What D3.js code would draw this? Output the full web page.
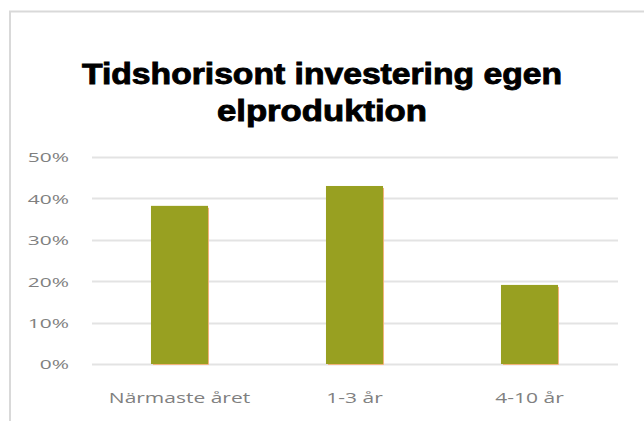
<!DOCTYPE html>
<html><head><meta charset="utf-8">
<script src="https://cdn.jsdelivr.net/npm/d3@7"></script>
<style>body{margin:0;background:#fff}svg{display:block}</style>
</head><body>
<script>
const categories = ["Närmaste året", "1-3 år", "4-10 år"];
const values = [0.382, 0.430, 0.191];
const yTicks = [0, 0.1, 0.2, 0.3, 0.4, 0.5];
const titleLines = ["Tidshorisont investering egen", "elproduktion"];

const W = 644, H = 421;
const svg = d3.select("body").append("svg").attr("width", W).attr("height", H);

// frame
svg.append("line").attr("x1", 9).attr("x2", W).attr("y1", 11.5).attr("y2", 11.5).attr("stroke", "#d9d9d9").attr("stroke-width", 2);
svg.append("line").attr("x1", 10).attr("x2", 10).attr("y1", 11).attr("y2", H).attr("stroke", "#d9d9d9").attr("stroke-width", 2);

const x = d3.scaleBand().domain(categories).range([92, 617]).paddingInner(0.674).paddingOuter(0.337);
const y = d3.scaleLinear().domain([0, 0.5]).range([364, 157]);

const grid = svg.append("g");
grid.selectAll("line").data(yTicks).join("line")
  .attr("x1", 92).attr("x2", 618)
  .attr("y1", d => Math.round(y(d)) + 0.5).attr("y2", d => Math.round(y(d)) + 0.5)
  .attr("stroke", "#e3e3e3").attr("stroke-width", 2);

const yAxis = svg.append("g").attr("transform", "translate(69,0)")
  .call(d3.axisLeft(y).tickValues(yTicks).tickFormat(d3.format(".0%")).tickSize(0).tickPadding(0));
yAxis.select(".domain").remove();
yAxis.selectAll("text").attr("fill", "#808080").attr("dy", "0.36em")
  .attr("transform", "scale(1.55,1)")
  .style("font-family", "'Open Sans', sans-serif").style("font-size", "13.5px");

svg.append("g").selectAll("rect").data(values).join("rect")
  .attr("x", (d, i) => x(categories[i]))
  .attr("width", x.bandwidth())
  .attr("y", d => y(d))
  .attr("height", d => y(0) - y(d))
  .attr("fill", "#98a021");
svg.append("g").selectAll("path").data(values).join("path")
  .attr("d", (d, i) => { const x0 = x(categories[i]), x1 = x0 + x.bandwidth(); return `M${x1 + 0.5},${y(d) + 2}V${y(0) + 0.5}H${x0 + 2}`; })
  .attr("fill", "none").attr("stroke", "#f2b27a").attr("stroke-width", 1);

const xAxis = svg.append("g").attr("transform", "translate(0,364)")
  .call(d3.axisBottom(x).tickSize(0).tickPadding(0));
xAxis.select(".domain").remove();
xAxis.selectAll("text").attr("fill", "#808080").attr("y", 39).attr("dy", null)
  .attr("transform", "scale(1.4,1)")
  .style("font-family", "'Open Sans', sans-serif").style("font-size", "15px");

const tl = [480, 210];
svg.append("g").selectAll("text").data(titleLines).join("text")
  .attr("x", 322).attr("y", (d, i) => 84 + i * 37)
  .attr("text-anchor", "middle")
  .attr("textLength", (d, i) => tl[i]).attr("lengthAdjust", "spacingAndGlyphs")
  .style("font-family", "'Liberation Sans', Arial, sans-serif").style("font-weight", "bold").style("font-size", "29px")
  .attr("stroke", "#000").attr("stroke-width", 0.9)
  .attr("fill", "#000").text(d => d);
</script>
</body></html>
